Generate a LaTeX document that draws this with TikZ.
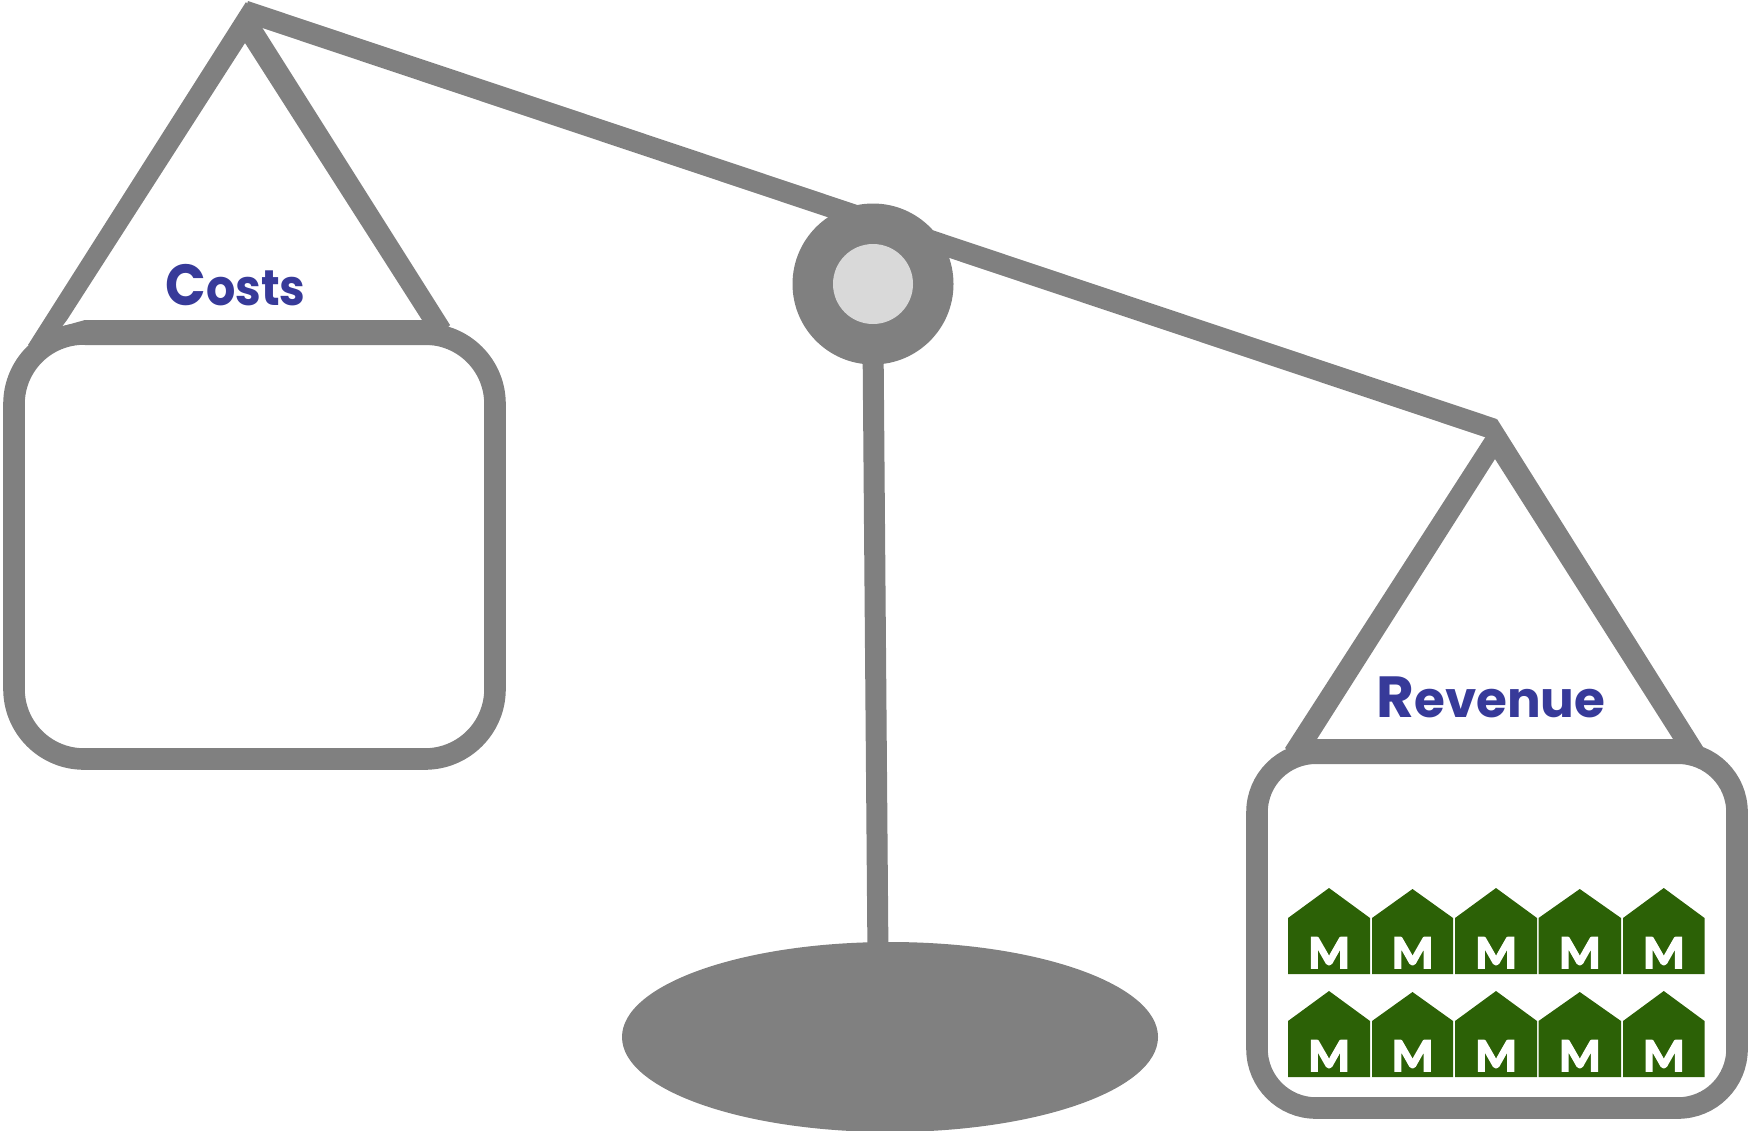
\documentclass[tikz,border=0pt]{standalone}
\usetikzlibrary{shapes.geometric}
\usepackage{fontspec}
\newfontfamily\labelfont{Poppins}
\newfontfamily\markfont{Carlito}
\definecolor{beamgray}{HTML}{808080}
\definecolor{pinfill}{HTML}{D9D9D9}
\definecolor{housegreen}{HTML}{2C6106}
\definecolor{labelblue}{HTML}{373A99}
\newcommand{\capsize}{\fontsize{29}{29}\selectfont}
\newcommand{\lowsize}{\fontsize{25}{25}\selectfont}
\newcommand{\heavyM}{\special{pdf:code q 2 Tr 0.9 w 1 1 1 RG}M\special{pdf:code Q}}
\tikzset{
  px/.style={x=0.5pt,y=-0.5pt},
  strut/.style={draw=beamgray,line width=10.5pt,line cap=butt,line join=miter},
  pan/.style={draw=beamgray,line width=10.8pt,rounded corners=#1},
  panbar/.style={draw=beamgray,line width=12.5pt,line cap=butt},
  hanger/.style={fill=beamgray,draw=none},
  scalelabel/.style={text=labelblue,font=\labelfont\bfseries,inner sep=0pt,anchor=base west},
  housemark/.style={text=white,font=\markfont\bfseries\fontsize{23.5}{23.5}\selectfont,inner sep=0pt,anchor=base},
  housebody/.style={fill=housegreen,draw=none}
}
\begin{document}
\begin{tikzpicture}[px]
\useasboundingbox (0,0) rectangle (1748,1130);
\clip (0,0) rectangle (1748,1130);
% named points
\coordinate (beamL) at (244.7,11);
\coordinate (beamR) at (1493.5,429);
\coordinate (postT) at (873,340);
\coordinate (postB) at (878,960);
\coordinate (barRa) at (1314,751.5);
\coordinate (barRb) at (1678,751.5);
% base and post
\node[ellipse,fill=beamgray,minimum width=268pt,minimum height=95pt,inner sep=0pt] (base) at (890,1037) {};
\draw[strut] (postT) -- (postB);
% beam
\draw[strut] (beamL) -- (beamR);
% pans
\draw[pan=35pt] (14,334) rectangle (495,759);
\fill[hanger] (58,327.5) -- (85,320) -- (441,320) -- (441,345) -- (85,345) -- cycle;
\draw[pan=29.5pt] (1257,753.2) rectangle (1737,1108);
\draw[panbar] (barRa) -- (barRb);
\node[circle,fill=beamgray,minimum size=80.5pt,inner sep=0pt] (pivot) at (873,284) {};
\node[circle,fill=pinfill,minimum size=40pt,inner sep=0pt] (pin) at (873,284) {};
% hangers
\fill[hanger] (246,2) -- (450,325) -- (437,340) -- (422,320) -- (245,43) -- (67,320) -- (48,345) -- (28,345) -- cycle;
\fill[hanger] (1497,419) -- (1703,747) -- (1690,760) -- (1673,739) -- (1495,459) -- (1317,739) -- (1300,760) -- (1285,748) -- cycle;
% labels
\node[scalelabel] (costs) at (165,305) {\scalebox{0.92}[1]{\capsize C\lowsize osts}};
\node[scalelabel] (revenue) at (1376,717) {\capsize R\lowsize evenue};
% houses
\foreach \l/\r/\a [count=\i] in {1288/1370/888,1372/1453/889,1455/1537/888,1538.5/1621/889,1623/1704.5/888}{
  \fill[housebody] (\l,918) -- ({(\l+\r)/2},\a) -- (\r,918) -- (\r,974) -- (\l,974) -- cycle;
  \node[housemark] (ma\i) at ({(\l+\r)/2},968) {\heavyM};
  \fill[housebody] (\l,1021) -- ({(\l+\r)/2},\a+103) -- (\r,1021) -- (\r,1077) -- (\l,1077) -- cycle;
  \node[housemark] (mb\i) at ({(\l+\r)/2},1071) {\heavyM};
}
\end{tikzpicture}
\end{document}
